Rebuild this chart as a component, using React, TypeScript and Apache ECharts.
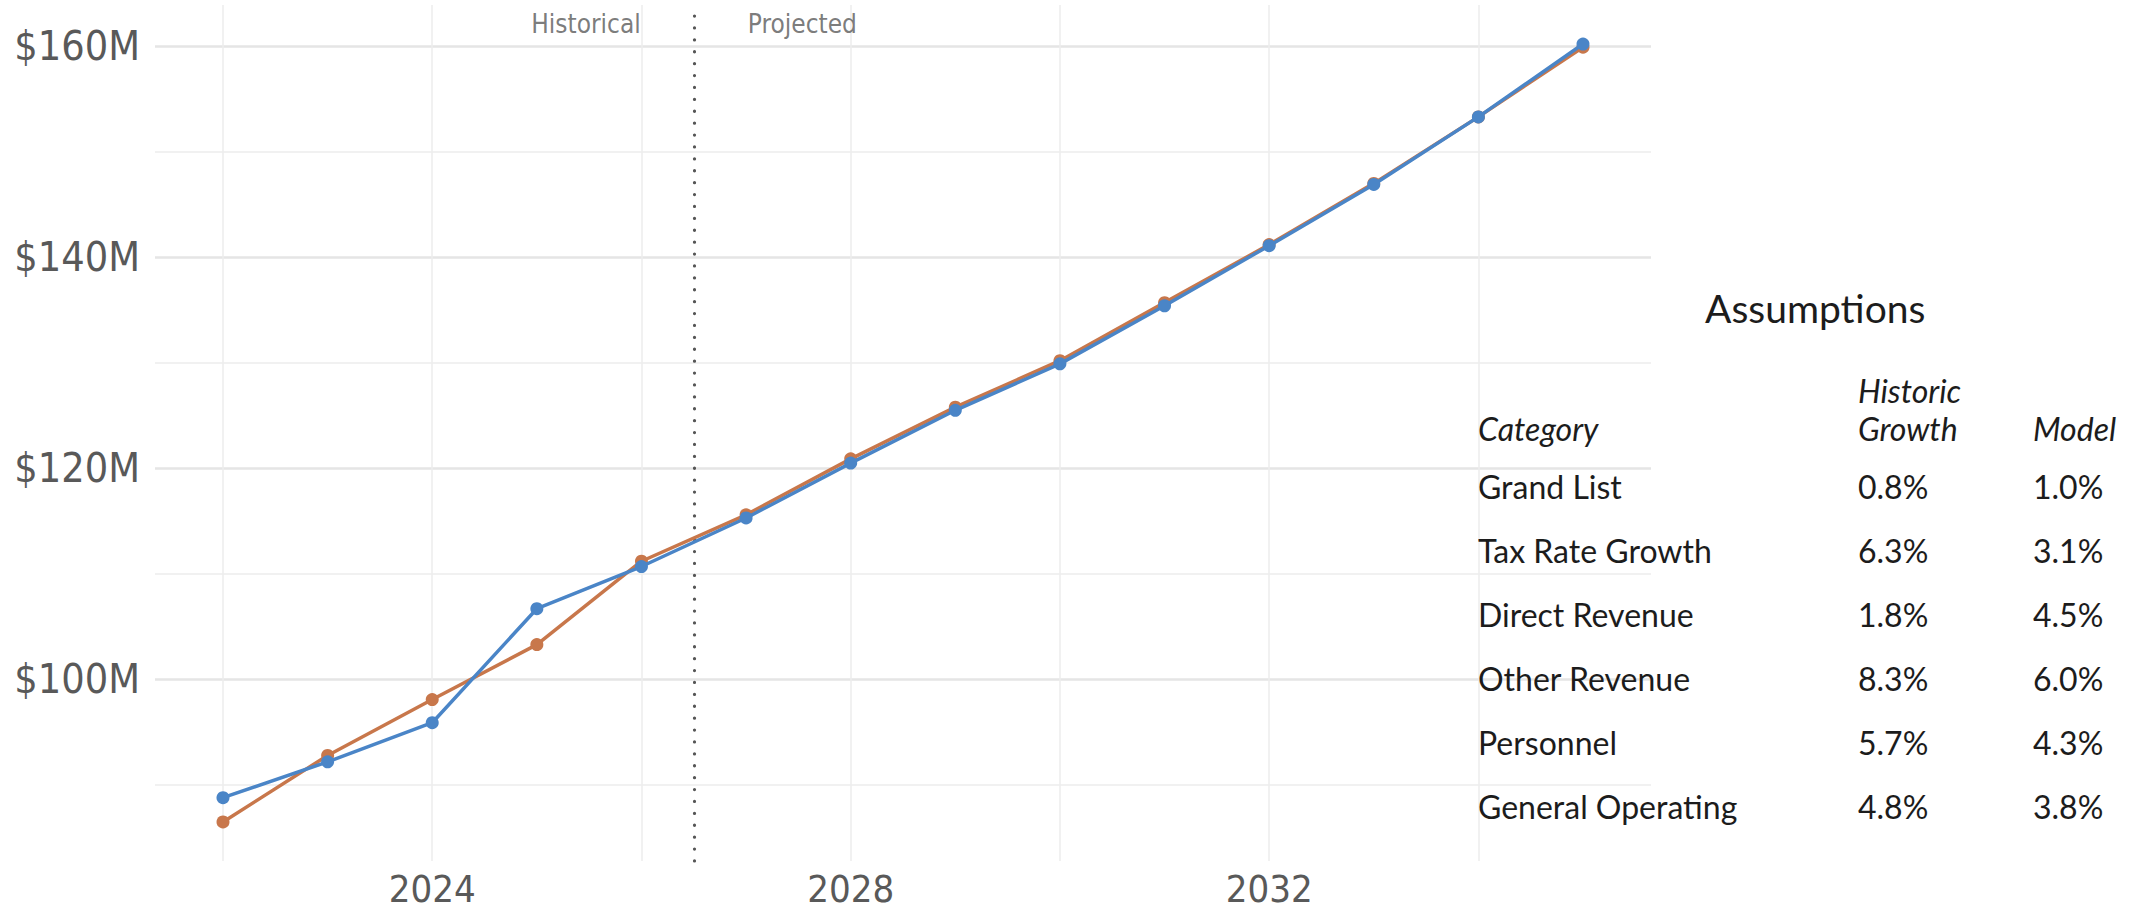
import React, { useEffect, useRef } from "react";
import * as echarts from "echarts";

// Fiscal years on the horizontal axis
const years = [2022, 2023, 2024, 2025, 2026, 2027, 2028, 2029, 2030, 2031, 2032, 2033, 2034, 2035];

// Totals in $M
const revenue = [86.5, 92.8, 98.1, 103.3, 111.2, 115.6, 120.9, 125.8, 130.2, 135.7, 141.2, 147.0, 153.3, 159.9];
const expenses = [88.8, 92.2, 95.9, 106.7, 110.7, 115.3, 120.5, 125.5, 129.9, 135.4, 141.1, 146.9, 153.3, 160.2];

// Axis ticks / gridlines
const yLabelValues = [100, 120, 140, 160];
const yMinorValues = [90, 110, 130, 150];
const xLabelValues = [2024, 2028, 2032];
const xMinorValues = [2022, 2026, 2030, 2034];

// Boundary between actuals and projections
const splitYear = 2026.5;

// Assumptions table
const tableCategories = ["Grand List", "Tax Rate Growth", "Direct Revenue", "Other Revenue", "Personnel", "General Operating"];
const historicGrowth = ["0.8%", "6.3%", "1.8%", "8.3%", "5.7%", "4.8%"];
const modelGrowth = ["1.0%", "3.1%", "4.5%", "6.0%", "4.3%", "3.8%"];

const ORANGE = "#c8774b";
const BLUE = "#4a85c7";
const AXIS_FONT = "'DejaVu Sans Condensed', 'DejaVu Sans', sans-serif";
const TABLE_FONT = "Lato, 'Open Sans', sans-serif";

const X_MIN = 2021.35;
const X_MAX = 2035.65;
const Y_MIN = 82.8;
const Y_MAX = 163.9;

export default function App() {
  const ref = useRef<HTMLDivElement>(null);

  useEffect(() => {
    if (!ref.current) return;
    const chart = echarts.init(ref.current, null, { renderer: "svg" });

    const major = { color: "#e5e5e5", width: 2.5, type: "solid" as const };
    const minor = { color: "#ededed", width: 1.5, type: "solid" as const };

    const gridLines = [
      ...yLabelValues.map((v) => ({ yAxis: v, lineStyle: major })),
      ...yMinorValues.map((v) => ({ yAxis: v, lineStyle: minor })),
      ...xLabelValues.map((v) => ({ xAxis: v, lineStyle: minor })),
      ...xMinorValues.map((v) => ({ xAxis: v, lineStyle: minor })),
    ];

    const rowY0 = 486;
    const rowStep = 64;
    const col1 = 1478;
    const col2 = 1858;
    const col3 = 2033;
    const tableText = (text: string, x: number, y: number, extra: any = {}) => ({
      type: "text",
      x,
      y,
      z: 10,
      silent: true,
      style: {
        text,
        fill: "#1c1c1c",
        font: `400 32px ${TABLE_FONT}`,
        textAlign: "left",
        textVerticalAlign: "middle",
        ...extra,
      },
    });

    const graphics: any[] = [
      tableText("Assumptions", 1705, 308, { font: `400 39px ${TABLE_FONT}` }),
      tableText("Historic", col2, 390, { font: `italic 400 32px ${TABLE_FONT}` }),
      tableText("Category", col1, 428, { font: `italic 400 32px ${TABLE_FONT}` }),
      tableText("Growth", col2, 428, { font: `italic 400 32px ${TABLE_FONT}` }),
      tableText("Model", col3, 428, { font: `italic 400 32px ${TABLE_FONT}` }),
    ];
    tableCategories.forEach((c, i) => {
      const y = rowY0 + i * rowStep;
      graphics.push(tableText(c, col1, y));
      graphics.push(tableText(historicGrowth[i], col2, y));
      graphics.push(tableText(modelGrowth[i], col3, y));
    });

    chart.setOption({
      animation: false,
      backgroundColor: "#ffffff",
      grid: { left: 155, right: 501, top: 5, bottom: 51, containLabel: false, outerBoundsMode: "none" },
      xAxis: {
        type: "value",
        min: X_MIN,
        max: X_MAX,
        axisLine: { show: false },
        axisTick: { show: false },
        splitLine: { show: false },
        axisLabel: {
          customValues: xLabelValues,
          formatter: (v: number) => String(v),
          fontSize: 38,
          fontFamily: AXIS_FONT,
          color: "#595959",
          margin: 9,
        },
      },
      yAxis: {
        type: "value",
        min: Y_MIN,
        max: Y_MAX,
        axisLine: { show: false },
        axisTick: { show: false },
        splitLine: { show: false },
        axisLabel: {
          customValues: yLabelValues,
          formatter: (v: number) => `$${v}M`,
          fontSize: 41,
          fontFamily: AXIS_FONT,
          color: "#595959",
          margin: 15,
        },
      },
      series: [
        {
          name: "gridlines",
          type: "line",
          data: [],
          silent: true,
          z: 0,
          markLine: {
            silent: true,
            z: 0,
            symbol: ["none", "none"],
            label: { show: false },
            data: gridLines,
          },
        },
        {
          name: "divider",
          type: "line",
          data: [],
          silent: true,
          z: 1,
          markLine: {
            silent: true,
            z: 1,
            symbol: ["none", "none"],
            label: { show: false },
            lineStyle: { color: "#555555", width: 3.2, type: [0.1, 11.8], cap: "round" },
            data: [{ xAxis: splitYear }],
          },
        },
        {
          name: "periods",
          type: "scatter",
          silent: true,
          symbolSize: 0,
          z: 2,
          data: [
            {
              value: [splitYear, Y_MAX],
              label: { show: true, position: "left", distance: 53, formatter: "Historical", offset: [0, 19] },
            },
            {
              value: [splitYear, Y_MAX],
              label: { show: true, position: "right", distance: 54, formatter: "Projected", offset: [0, 19] },
            },
          ],
          label: { fontSize: 26, fontFamily: AXIS_FONT, color: "#595959" },
        },
        {
          name: "Revenue",
          type: "line",
          z: 3,
          data: years.map((y, i) => [y, revenue[i]]),
          symbol: "circle",
          symbolSize: 13,
          lineStyle: { color: ORANGE, width: 3.5 },
          itemStyle: { color: ORANGE },
        },
        {
          name: "Expenses",
          type: "line",
          z: 4,
          data: years.map((y, i) => [y, expenses[i]]),
          symbol: "circle",
          symbolSize: 13,
          lineStyle: { color: BLUE, width: 3.5 },
          itemStyle: { color: BLUE },
        },
      ],
      graphic: graphics,
    });

    return () => chart.dispose();
  }, []);

  return (
    <div
      ref={ref}
      style={{ position: "fixed", left: 0, top: 0, width: 2152, height: 912, background: "#fff" }}
    />
  );
}
